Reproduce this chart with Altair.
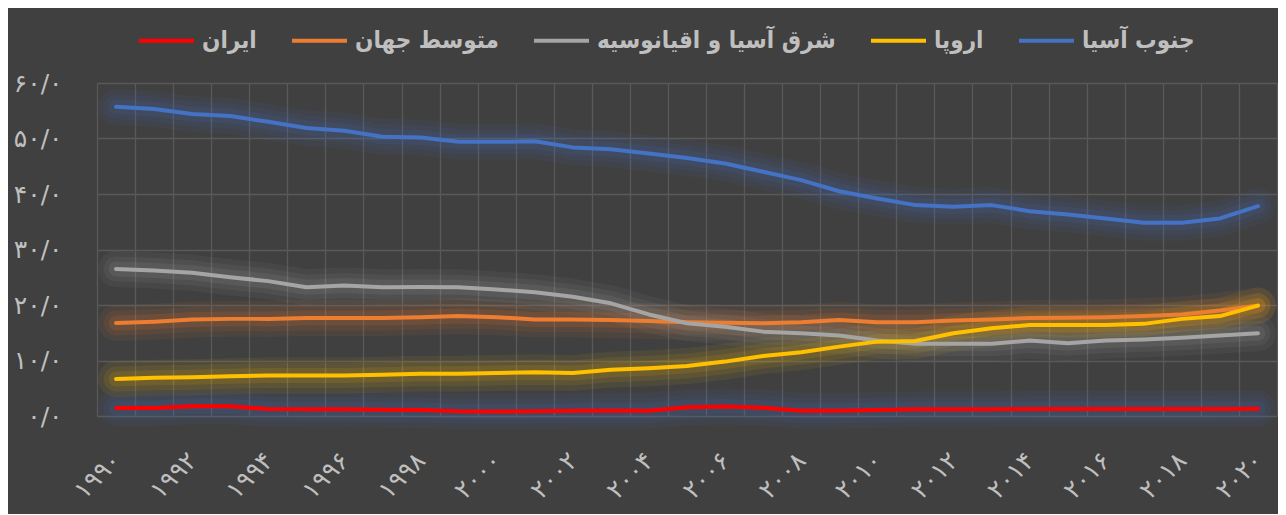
import json
import altair as alt
import pandas as pd

# ---------------- data ----------------
years = list(range(1990, 2021))
series_names = ["ایران", "متوسط جهان", "شرق آسیا و اقیانوسیه", "اروپا", "جنوب آسیا"]

iran = [1.44, 1.44, 1.74, 1.74, 1.26, 1.2, 1.2, 1.14, 1.08, 0.84, 0.8, 0.84, 0.96, 0.96, 0.96, 1.56,
        1.7, 1.5, 0.96, 0.96, 1.08, 1.2, 1.2, 1.2, 1.26, 1.26, 1.26, 1.26, 1.26, 1.26, 1.3]
world = [16.75, 17.0, 17.4, 17.5, 17.5, 17.65, 17.65, 17.65, 17.8, 18.0, 17.8, 17.4, 17.4, 17.3, 17.1, 16.9,
         16.8, 16.7, 16.9, 17.3, 16.9, 16.9, 17.2, 17.4, 17.65, 17.7, 17.8, 18.0, 18.3, 19.0, 19.9]
east_asia = [26.5, 26.2, 25.8, 25.0, 24.3, 23.2, 23.5, 23.2, 23.25, 23.2, 22.8, 22.3, 21.5, 20.3, 18.3, 16.7,
             16.1, 15.2, 14.9, 14.5, 13.6, 13.0, 13.0, 13.0, 13.6, 13.1, 13.6, 13.8, 14.1, 14.5, 14.9]
europe = [6.67, 6.9, 7.0, 7.15, 7.3, 7.3, 7.3, 7.45, 7.6, 7.6, 7.75, 7.9, 7.75, 8.35, 8.6, 9.0,
          9.8, 10.8, 11.5, 12.5, 13.4, 13.5, 14.9, 15.8, 16.4, 16.4, 16.4, 16.6, 17.5, 18.0, 19.9]
south_asia = [55.7, 55.3, 54.4, 54.05, 53.0, 51.9, 51.4, 50.3, 50.2, 49.4, 49.4, 49.5, 48.4, 48.05, 47.3, 46.5,
              45.5, 44.0, 42.5, 40.5, 39.2, 38.0, 37.7, 38.0, 36.9, 36.3, 35.6, 34.8, 34.8, 35.6, 37.8]

line_colors = ["#FF0000", "#ED7D31", "#A5A5A5", "#FFC000", "#4472C4"]
glow_colors = ["#4472C4", "#ED7D31", "#A5A5A5", "#FFC000", "#4472C4"]

y_ticks = [0, 10, 20, 30, 40, 50, 60]
y_labels = ["۰/۰", "۱۰/۰", "۲۰/۰", "۳۰/۰", "۴۰/۰", "۵۰/۰", "۶۰/۰"]
x_ticks = list(range(1990, 2021, 2))
x_labels = ["۱۹۹۰", "۱۹۹۲", "۱۹۹۴", "۱۹۹۶", "۱۹۹۸", "۲۰۰۰", "۲۰۰۲", "۲۰۰۴",
            "۲۰۰۶", "۲۰۰۸", "۲۰۱۰", "۲۰۱۲", "۲۰۱۴", "۲۰۱۶", "۲۰۱۸", "۲۰۲۰"]
grid_bounds = [y - 0.5 for y in years] + [years[-1] + 0.5]

# ---------------- table ----------------
values = [iran, world, east_asia, europe, south_asia]
rows = []
for name, vals, gc in zip(series_names, values, glow_colors):
    for yr, v in zip(years, vals):
        rows.append({"year": yr, "value": v, "series": name, "glow": gc})
df = pd.DataFrame(rows)

LEG_FONT = "DejaVu Sans Condensed, DejaVu Sans"
AX_FONT = "DejaVu Sans"
TXT = "#BFBFBF"
GRID = "#595959"

xscale = alt.Scale(domain=[grid_bounds[0], grid_bounds[-1]], nice=False, zero=False)
yscale = alt.Scale(domain=[0, 60], nice=False)

base = alt.Chart(df)

def glow(width, opacity, x_axis):
    return base.mark_line(strokeWidth=width, strokeOpacity=opacity, strokeCap="round", strokeJoin="round").encode(
        x=alt.X("year:Q", scale=xscale, axis=x_axis),
        y=alt.Y("value:Q", scale=yscale, axis=None),
        stroke=alt.Stroke("glow:N", scale=None),
        detail="series:N",
    )

grid_axis = alt.Axis(values=grid_bounds, grid=True, gridColor=GRID, gridWidth=1.3, labels=False,
                     ticks=False, domain=False, title=None, orient="bottom")

g1 = glow(36, 0.07, grid_axis)
g2 = glow(25, 0.09, None)
g3 = glow(15, 0.12, None)

main = base.mark_line(strokeWidth=4, strokeCap="round", strokeJoin="round").encode(
    x=alt.X("year:Q", scale=xscale,
            axis=alt.Axis(values=x_ticks, labelExpr=f"{json.dumps(x_labels, ensure_ascii=False)}[round((datum.value-1990)/2)]",
                          orient="bottom", grid=False, domain=False, ticks=False, labelAngle=-45,
                          labelAlign="right", labelBaseline="middle", labelPadding=40, labelFontSize=25,
                          labelColor=TXT, labelFont=AX_FONT, labelFlush=False, labelOverlap=False, title=None)),
    y=alt.Y("value:Q", scale=yscale,
            axis=alt.Axis(values=y_ticks, labelExpr=f"{json.dumps(y_labels, ensure_ascii=False)}[round(datum.value/10)]",
                          grid=True, gridColor=GRID, gridWidth=1.3, domain=False, ticks=False,
                          labelPadding=35, labelFontSize=25, labelColor=TXT, labelFont=AX_FONT, title=None)),
    color=alt.Color("series:N", scale=alt.Scale(domain=series_names, range=line_colors), sort=series_names,
                    legend=alt.Legend(orient="none", legendX=40, legendY=-72, direction="horizontal", columns=5,
                                      title=None, symbolType="stroke", symbolSize=3025, symbolStrokeWidth=4,
                                      symbolOpacity=1,
                                      labelFontSize=24, labelFontWeight="bold", labelColor=TXT, labelFont=LEG_FONT,
                                      labelOffset=6, columnPadding=27, labelLimit=400)),
)

chart = alt.layer(g1, g2, g3, main).resolve_axis(x="independent", y="independent").properties(
    width=1180, height=333,
    autosize=alt.AutoSizeParams(type="none"),
    padding={"left": 89, "top": 75, "right": 1, "bottom": 98},
    background="#404040",
).configure_view(stroke=None)

chart.save("out.html", embed_options={"renderer": "svg", "actions": False})
